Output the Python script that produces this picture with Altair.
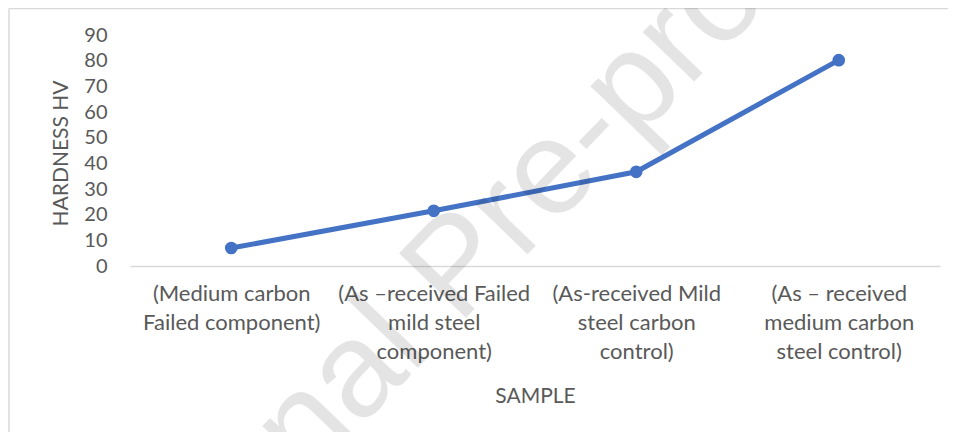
import altair as alt
import pandas as pd

# ---- data ----
categories = [
    "(Medium carbon\nFailed component)",
    "(As \u2013received Failed\nmild steel\ncomponent)",
    "(As-received Mild\nsteel carbon\ncontrol)",
    "(As \u2013 received\nmedium carbon\nsteel control)",
]
hardness = [7.0, 21.5, 36.7, 80.2]
y_ticks = [0, 10, 20, 30, 40, 50, 60, 70, 80, 90]
x_title = "SAMPLE"
y_title = "HARDNESS HV"
watermark = "Journal Pre-proof"

df = pd.DataFrame({"sample": categories, "hv": hardness})

TEXT = "#595959"
LINE = "#4472C4"
GRID = "#d9d9d9"
FONT = "Lato"

x_enc = alt.X(
    "sample:N",
    sort=categories,
    scale=alt.Scale(type="point", padding=0.5),
    axis=alt.Axis(
        title=x_title,
        labelAngle=0,
        labelExpr="split(datum.label, '\\n')",
        labelFontSize=22,
        labelLineHeight=29,
        labelPadding=17,
        labelColor=TEXT,
        labelFont=FONT,
        labelLimit=0,
        labelOverlap=False,
        ticks=False,
        domainColor=GRID,
        domainWidth=1.5,
        titleFont=FONT,
        titleFontSize=21,
        titleFontWeight="normal",
        titleColor=TEXT,
        titleY=136,
        titleBaseline="alphabetic",
    ),
)
y_enc = alt.Y(
    "hv:Q",
    scale=alt.Scale(domain=[0, 90], nice=False, zero=True),
    axis=alt.Axis(
        title=y_title,
        values=y_ticks,
        tickCount=10,
        domain=False,
        ticks=False,
        grid=False,
        labelOverlap=False,
        labelPadding=23,
        labelFontSize=20,
        labelColor=TEXT,
        labelFont=FONT,
        titleFont=FONT,
        titleFontSize=21,
        titleFontWeight="normal",
        titleColor=TEXT,
        titleAngle=270,
        titleX=-69,
        titleY=118,
        titleAlign="center",
        titleBaseline="middle",
    ),
)

base = alt.Chart(df).encode(x=x_enc, y=y_enc)
line = base.mark_line(color=LINE, strokeWidth=5)
pts = base.mark_point(filled=True, color=LINE, size=160, opacity=1)

wm = alt.Chart(pd.DataFrame({"t": [watermark]})).mark_text(
    font="Liberation Sans",
    fontSize=135,
    angle=314,
    align="center",
    baseline="alphabetic",
    color="#000000",
    opacity=0.1,
).encode(text="t:N", x=alt.value(487 - 130), y=alt.value(296 - 35))

border_left = alt.Chart(pd.DataFrame({"a": [0]})).mark_rule(color=GRID, strokeWidth=1.5).encode(
    x=alt.value(-121), y=alt.value(-26.5), y2=alt.value(397)
)
border_top = alt.Chart(pd.DataFrame({"a": [0]})).mark_rule(color=GRID, strokeWidth=1.5).encode(
    x=alt.value(-121), x2=alt.value(830), y=alt.value(-26.5)
)

chart = alt.layer(border_left, border_top, line, pts, wm).properties(
    width=810,
    height=231,
    autosize=alt.AutoSizeParams(type="none"),
    padding={"left": 122, "top": 27, "right": 8, "bottom": 166},
).configure(background="white").configure_view(stroke=None)

chart.save("out.html", embed_options={"renderer": "svg", "actions": False})
